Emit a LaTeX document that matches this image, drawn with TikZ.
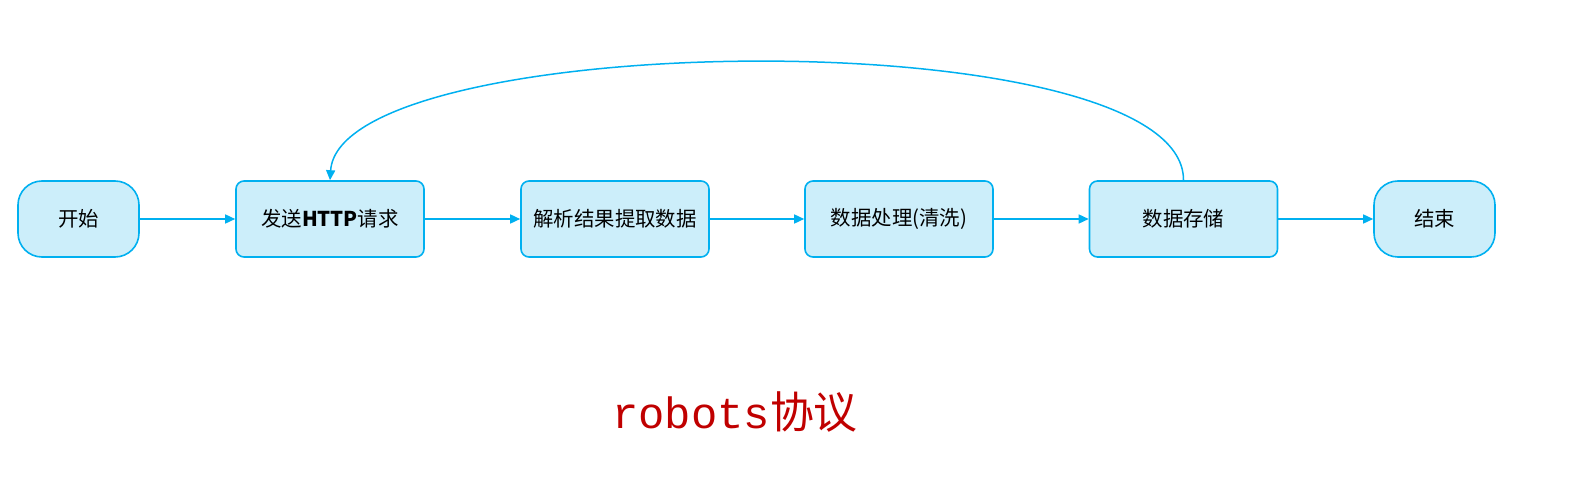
\documentclass[tikz,border=0pt]{standalone}
\usepackage{fontspec}
\usepackage{tikz}
\usetikzlibrary{arrows.meta}
\setmainfont{Noto Sans CJK SC}
\newfontfamily\monofont{Liberation Mono}
\definecolor{flowline}{RGB}{0,176,240}
\definecolor{flowfill}{RGB}{204,238,250}
\definecolor{notered}{RGB}{192,0,0}

\begin{document}
\begin{tikzpicture}[x=1bp, y=-1bp,
    every node/.style={font=\fontsize{20.5}{24}\selectfont},
    endbox/.style={draw=flowline, fill=flowfill, line width=1.6bp, rounded corners=24bp,
        minimum width=121bp, minimum height=76bp, inner sep=0pt},
    stepbox/.style={draw=flowline, fill=flowfill, line width=1.6bp, rounded corners=8bp,
        minimum width=188bp, minimum height=76bp, inner sep=0pt},
    flow/.style={draw=flowline, line width=1.5bp, -{Triangle[length=10bp,width=9bp]}}]
    \useasboundingbox (0,0) rectangle (1585,499);

    % main row
    \node[endbox] (start) at (78.5,219) {开始};
    \node[stepbox] (send) at (330,219) {发送\textbf{HTTP}请求};
    \node[stepbox] (parse) at (615,219) {解析结果提取数据};
    \node[stepbox] (clean) at (899,219) {数据处理(清洗)};
    \node[stepbox] (store) at (1183.5,219) {数据存储};
    \node[endbox] (stop) at (1434.5,219) {结束};

    \foreach \a/\b in {start/send, send/parse, parse/clean, clean/store, store/stop}
        \draw[flow] (\a) -- (\b);

    % loop back
    \draw[flow] (store.north) .. controls (1184,18) and (340,28) .. (send.north);

    \node[text=notered, font=\fontsize{44}{48}\selectfont] (robots) at (735,412) {{\monofont robots}协议};
\end{tikzpicture}
\end{document}
